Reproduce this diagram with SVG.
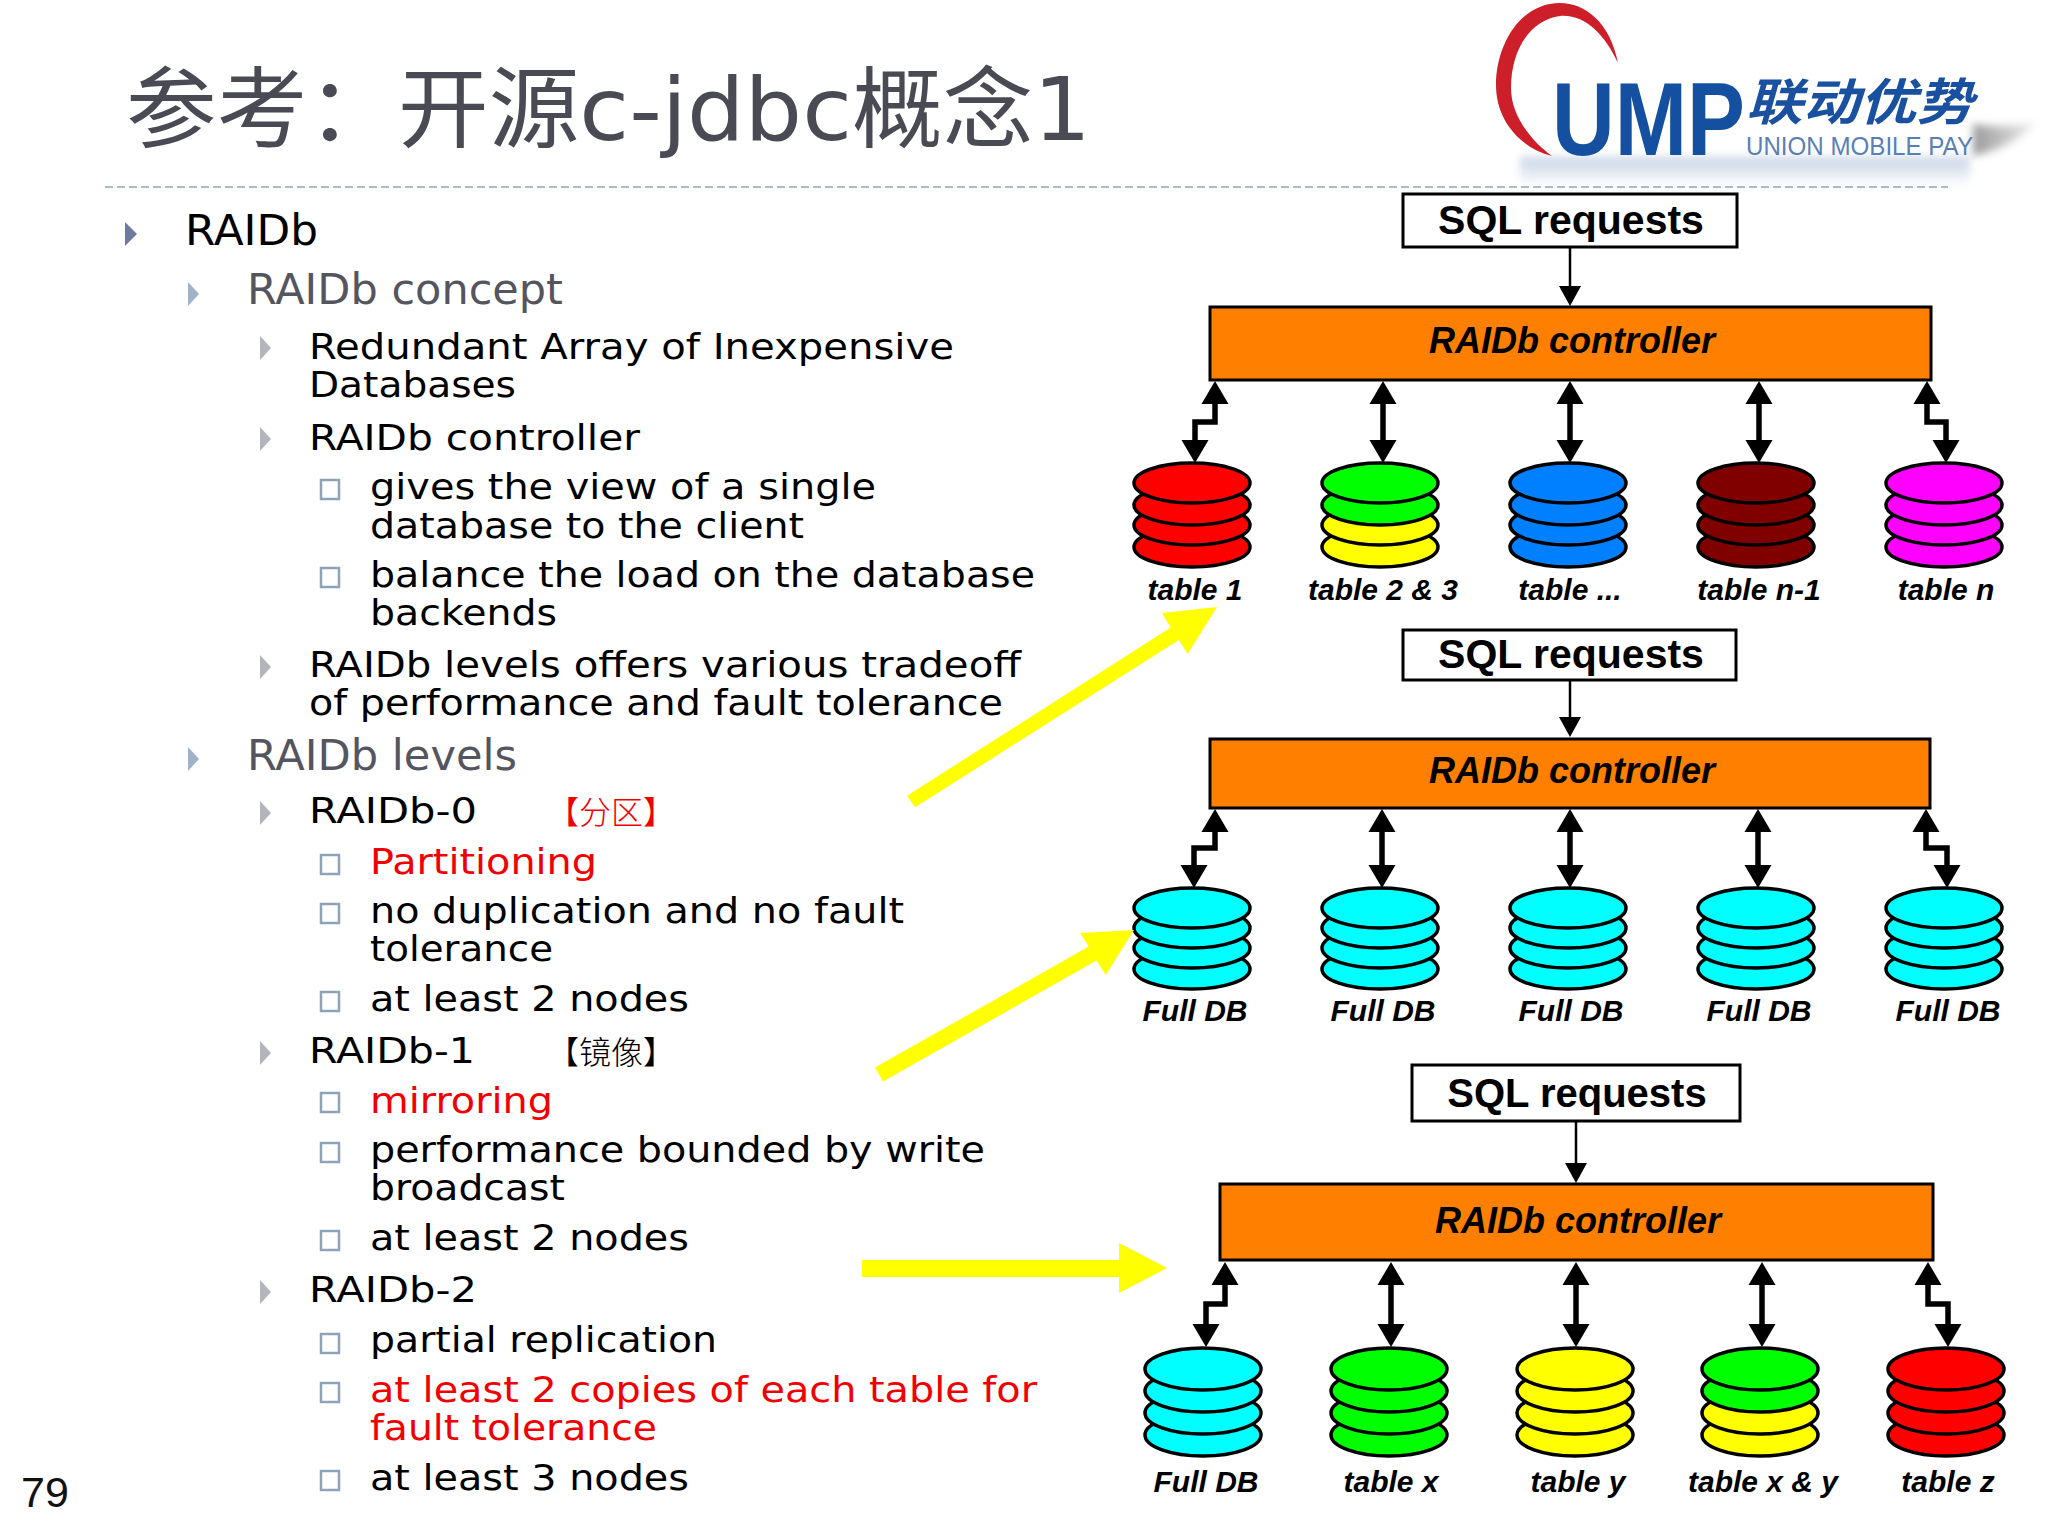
<svg xmlns="http://www.w3.org/2000/svg" width="2048" height="1536" viewBox="0 0 2048 1536">
<style>
text{font-family:"DejaVu Sans","Noto Sans CJK SC",sans-serif;fill:#000}
.title{font-size:88px;fill:#4a4a55}
.l1{font-size:42px}
.l2{font-size:42px;fill:#55555f}
.l3,.l4{font-size:36px}
.red{fill:#f00000}
.cjk{font-family:"Noto Sans CJK SC",sans-serif;font-size:32px;font-weight:300}
.num{font-family:"Liberation Sans",sans-serif;font-size:43px;fill:#111}
.sql{font-family:"Liberation Sans",sans-serif;font-size:41px;font-weight:700;text-anchor:middle}
.ctl{font-family:"Liberation Sans",sans-serif;font-size:36px;font-weight:700;font-style:italic;text-anchor:middle}
.lbl{font-family:"Liberation Sans",sans-serif;font-size:30px;font-weight:700;font-style:italic;text-anchor:middle}
.box{fill:#fff;stroke:#000;stroke-width:3}
.ctrl{fill:#ff8000;stroke:#000;stroke-width:3}
ellipse{stroke:#000;stroke-width:3.5}
.r{fill:#f00}.g{fill:#0f0}.y{fill:#ff0}.b{fill:#0080ff}.m{fill:#800000}.p{fill:#f0f}.c{fill:#0ff}
.t1{fill:#6f7a9f}.t2{fill:#9fb2c8}.t3{fill:#b4b4bc}
.sq{fill:#fff;stroke:#8fa3b8;stroke-width:2.5}
.rule{stroke:#a8bccc;stroke-width:2;stroke-dasharray:8 4;fill:none}
.thin{fill:none;stroke:#000;stroke-width:2.5;marker-end:url(#head1)}
.dbl{fill:none;stroke:#000;stroke-width:5.5;marker-start:url(#head2);marker-end:url(#head2)}
.big{fill:#ff0}
</style>
<defs>
<marker id="head1" markerUnits="userSpaceOnUse" markerWidth="20" markerHeight="24" viewBox="0 0 20 24" refX="0" refY="12" orient="auto"><path d="M0,1 L20,12 L0,23Z" fill="#000"/></marker>
<marker id="head2" markerUnits="userSpaceOnUse" markerWidth="23" markerHeight="28" viewBox="0 0 23 28" refX="0" refY="14" orient="auto-start-reverse"><path d="M0,0.5 L23,14 L0,27.5Z" fill="#000"/></marker>
<path id="tri1" d="M0,-12 L12,0 L0,12Z"/>
<path id="tri2" d="M0,-12 L11,0 L0,12Z"/>
<linearGradient id="shadow" x1="0" x2="1" y1="0" y2="0"><stop offset="0" stop-color="#9a9a9a"/><stop offset="1" stop-color="#eeeeee"/></linearGradient>
<linearGradient id="refl" x1="0" x2="0" y1="0" y2="1"><stop offset="0" stop-color="#b9c8de"/><stop offset="1" stop-color="#ffffff"/></linearGradient>
<filter id="blur" x="-20%" y="-40%" width="140%" height="180%"><feGaussianBlur stdDeviation="4"/></filter>
</defs>
<rect width="2048" height="1536" fill="#fff"/>

<g id="logo">
<rect x="1520" y="157" width="450" height="30" fill="url(#refl)" filter="url(#blur)" opacity="0.8"/>
<path d="M1973,124 C2000,128 2020,126 2036,122 C2020,140 2000,150 1973,156Z" fill="url(#shadow)" filter="url(#blur)"/>
<path d="M1618,63 C1610,22 1585,3 1560,3 C1520,3 1496,45 1496,85 C1496,120 1520,148 1552,156 C1530,140 1511,115 1511,88 C1511,50 1530,20 1560,16 C1585,14 1605,35 1618,63Z" fill="#cc1f2a"/>
<text x="1552" y="155" font-size="104" textLength="193" lengthAdjust="spacingAndGlyphs" style="font-family:'Liberation Sans',sans-serif;font-weight:700;fill:#1550a0">UMP</text>
<text x="1746" y="120" font-size="50" textLength="227" lengthAdjust="spacingAndGlyphs" style="font-family:'Noto Sans CJK SC',sans-serif;font-weight:700;font-style:italic;fill:#1a50a0">联动优势</text>
<text x="1746" y="155" font-size="25" textLength="227" lengthAdjust="spacingAndGlyphs" style="font-family:'Liberation Sans',sans-serif;fill:#5a7fb5">UNION MOBILE PAY</text>
</g>

<g id="heading">
<text class="title" x="126" y="140" textLength="965" lengthAdjust="spacingAndGlyphs">参考：开源c-jdbc概念1</text>
<line class="rule" x1="105" y1="187" x2="1948" y2="187"/>
</g>

<g id="bullets">
<use href="#tri1" class="t1" x="125" y="234"/>
<use href="#tri2" class="t2" x="188" y="294"/>
<use href="#tri2" class="t2" x="188" y="759"/>
<use href="#tri2" class="t3" x="260" y="348"/>
<use href="#tri2" class="t3" x="260" y="439"/>
<use href="#tri2" class="t3" x="260" y="667"/>
<use href="#tri2" class="t3" x="260" y="813"/>
<use href="#tri2" class="t3" x="260" y="1053"/>
<use href="#tri2" class="t3" x="260" y="1292"/>
<rect class="sq" x="321" y="480" width="18" height="19"/>
<rect class="sq" x="321" y="568" width="18" height="19"/>
<rect class="sq" x="321" y="855" width="18" height="19"/>
<rect class="sq" x="321" y="904" width="18" height="19"/>
<rect class="sq" x="321" y="992" width="18" height="19"/>
<rect class="sq" x="321" y="1093" width="18" height="19"/>
<rect class="sq" x="321" y="1143" width="18" height="19"/>
<rect class="sq" x="321" y="1231" width="18" height="19"/>
<rect class="sq" x="321" y="1334" width="18" height="19"/>
<rect class="sq" x="321" y="1383" width="18" height="19"/>
<rect class="sq" x="321" y="1471" width="18" height="19"/>
</g>

<g id="outline">
<text class="l1" x="185" y="245" textLength="133" lengthAdjust="spacingAndGlyphs">RAIDb</text>
<text class="l2" x="247" y="304" textLength="316" lengthAdjust="spacingAndGlyphs">RAIDb concept</text>
<text class="l3" x="309" y="359" textLength="645" lengthAdjust="spacingAndGlyphs">Redundant Array of Inexpensive</text>
<text class="l3" x="309" y="397" textLength="207" lengthAdjust="spacingAndGlyphs">Databases</text>
<text class="l3" x="309" y="450" textLength="331" lengthAdjust="spacingAndGlyphs">RAIDb controller</text>
<text class="l4" x="370" y="499" textLength="506" lengthAdjust="spacingAndGlyphs">gives the view of a single</text>
<text class="l4" x="370" y="538" textLength="434" lengthAdjust="spacingAndGlyphs">database to the client</text>
<text class="l4" x="370" y="587" textLength="665" lengthAdjust="spacingAndGlyphs">balance the load on the database</text>
<text class="l4" x="370" y="625" textLength="187" lengthAdjust="spacingAndGlyphs">backends</text>
<text class="l3" x="309" y="677" textLength="712" lengthAdjust="spacingAndGlyphs">RAIDb levels offers various tradeoff</text>
<text class="l3" x="309" y="715" textLength="694" lengthAdjust="spacingAndGlyphs">of performance and fault tolerance</text>
<text class="l2" x="247" y="770" textLength="270" lengthAdjust="spacingAndGlyphs">RAIDb levels</text>
<text class="l3" x="309" y="823" textLength="168" lengthAdjust="spacingAndGlyphs">RAIDb-0</text>
<text class="cjk red" x="547" y="824">【分区】</text>
<text class="l4 red" x="370" y="874" textLength="227" lengthAdjust="spacingAndGlyphs">Partitioning</text>
<text class="l4" x="370" y="923" textLength="534" lengthAdjust="spacingAndGlyphs">no duplication and no fault</text>
<text class="l4" x="370" y="961" textLength="183" lengthAdjust="spacingAndGlyphs">tolerance</text>
<text class="l4" x="370" y="1011" textLength="319" lengthAdjust="spacingAndGlyphs">at least 2 nodes</text>
<text class="l3" x="309" y="1063" textLength="166" lengthAdjust="spacingAndGlyphs">RAIDb-1</text>
<text class="cjk" x="547" y="1064">【镜像】</text>
<text class="l4 red" x="370" y="1113" textLength="183" lengthAdjust="spacingAndGlyphs">mirroring</text>
<text class="l4" x="370" y="1162" textLength="615" lengthAdjust="spacingAndGlyphs">performance bounded by write</text>
<text class="l4" x="370" y="1200" textLength="195" lengthAdjust="spacingAndGlyphs">broadcast</text>
<text class="l4" x="370" y="1250" textLength="319" lengthAdjust="spacingAndGlyphs">at least 2 nodes</text>
<text class="l3" x="309" y="1302" textLength="168" lengthAdjust="spacingAndGlyphs">RAIDb-2</text>
<text class="l4" x="370" y="1352" textLength="347" lengthAdjust="spacingAndGlyphs">partial replication</text>
<text class="l4 red" x="370" y="1402" textLength="667" lengthAdjust="spacingAndGlyphs">at least 2 copies of each table for</text>
<text class="l4 red" x="370" y="1440" textLength="287" lengthAdjust="spacingAndGlyphs">fault tolerance</text>
<text class="l4" x="370" y="1490" textLength="319" lengthAdjust="spacingAndGlyphs">at least 3 nodes</text>
<text class="num" x="21" y="1507">79</text>
</g>

<g id="connectors">
<path class="thin" d="M1570,247V286"/>
<path class="dbl" d="M1215,404V422H1195V440"/>
<path class="dbl" d="M1383,404V440"/>
<path class="dbl" d="M1570,404V440"/>
<path class="dbl" d="M1759,404V440"/>
<path class="dbl" d="M1927,404V422H1946V440"/>
<path class="thin" d="M1570,680V717"/>
<path class="dbl" d="M1215,832V848H1194V865"/>
<path class="dbl" d="M1382,832V865"/>
<path class="dbl" d="M1570,832V865"/>
<path class="dbl" d="M1758,832V865"/>
<path class="dbl" d="M1926,832V848H1947V865"/>
<path class="thin" d="M1576,1120V1163"/>
<path class="dbl" d="M1225,1285V1304H1206V1324"/>
<path class="dbl" d="M1391,1285V1324"/>
<path class="dbl" d="M1576,1285V1324"/>
<path class="dbl" d="M1762,1285V1324"/>
<path class="dbl" d="M1928,1285V1304H1948V1324"/>
</g>

<g id="sql-1"><rect class="box" x="1403" y="194" width="334" height="53"/><text class="sql" x="1571" y="234">SQL requests</text></g>
<g id="controller-1"><rect class="ctrl" x="1210" y="307" width="721" height="73"/><text class="ctl" x="1572" y="353">RAIDb controller</text></g>
<g id="db-1-1"><ellipse class="r" cx="1192" cy="547" rx="58" ry="20"/><ellipse class="r" cx="1192" cy="525" rx="58" ry="20"/><ellipse class="r" cx="1192" cy="505" rx="58" ry="20"/><ellipse class="r" cx="1192" cy="483" rx="58" ry="20"/><text class="lbl" x="1195" y="600">table 1</text></g>
<g id="db-1-2"><ellipse class="y" cx="1380" cy="547" rx="58" ry="20"/><ellipse class="y" cx="1380" cy="525" rx="58" ry="20"/><ellipse class="g" cx="1380" cy="505" rx="58" ry="20"/><ellipse class="g" cx="1380" cy="483" rx="58" ry="20"/><text class="lbl" x="1383" y="600">table 2 &amp; 3</text></g>
<g id="db-1-3"><ellipse class="b" cx="1568" cy="547" rx="58" ry="20"/><ellipse class="b" cx="1568" cy="525" rx="58" ry="20"/><ellipse class="b" cx="1568" cy="505" rx="58" ry="20"/><ellipse class="b" cx="1568" cy="483" rx="58" ry="20"/><text class="lbl" x="1570" y="600">table ...</text></g>
<g id="db-1-4"><ellipse class="m" cx="1756" cy="547" rx="58" ry="20"/><ellipse class="m" cx="1756" cy="525" rx="58" ry="20"/><ellipse class="m" cx="1756" cy="505" rx="58" ry="20"/><ellipse class="m" cx="1756" cy="483" rx="58" ry="20"/><text class="lbl" x="1759" y="600">table n-1</text></g>
<g id="db-1-5"><ellipse class="p" cx="1944" cy="547" rx="58" ry="20"/><ellipse class="p" cx="1944" cy="525" rx="58" ry="20"/><ellipse class="p" cx="1944" cy="505" rx="58" ry="20"/><ellipse class="p" cx="1944" cy="483" rx="58" ry="20"/><text class="lbl" x="1946" y="600">table n</text></g>

<g id="sql-2"><rect class="box" x="1403" y="630" width="333" height="50"/><text class="sql" x="1571" y="668">SQL requests</text></g>
<g id="controller-2"><rect class="ctrl" x="1210" y="739" width="720" height="69"/><text class="ctl" x="1572" y="783">RAIDb controller</text></g>
<g id="db-2-1"><ellipse class="c" cx="1192" cy="969" rx="58" ry="20"/><ellipse class="c" cx="1192" cy="948" rx="58" ry="20"/><ellipse class="c" cx="1192" cy="928" rx="58" ry="20"/><ellipse class="c" cx="1192" cy="908" rx="58" ry="20"/><text class="lbl" x="1195" y="1021">Full DB</text></g>
<g id="db-2-2"><ellipse class="c" cx="1380" cy="969" rx="58" ry="20"/><ellipse class="c" cx="1380" cy="948" rx="58" ry="20"/><ellipse class="c" cx="1380" cy="928" rx="58" ry="20"/><ellipse class="c" cx="1380" cy="908" rx="58" ry="20"/><text class="lbl" x="1383" y="1021">Full DB</text></g>
<g id="db-2-3"><ellipse class="c" cx="1568" cy="969" rx="58" ry="20"/><ellipse class="c" cx="1568" cy="948" rx="58" ry="20"/><ellipse class="c" cx="1568" cy="928" rx="58" ry="20"/><ellipse class="c" cx="1568" cy="908" rx="58" ry="20"/><text class="lbl" x="1571" y="1021">Full DB</text></g>
<g id="db-2-4"><ellipse class="c" cx="1756" cy="969" rx="58" ry="20"/><ellipse class="c" cx="1756" cy="948" rx="58" ry="20"/><ellipse class="c" cx="1756" cy="928" rx="58" ry="20"/><ellipse class="c" cx="1756" cy="908" rx="58" ry="20"/><text class="lbl" x="1759" y="1021">Full DB</text></g>
<g id="db-2-5"><ellipse class="c" cx="1944" cy="969" rx="58" ry="20"/><ellipse class="c" cx="1944" cy="948" rx="58" ry="20"/><ellipse class="c" cx="1944" cy="928" rx="58" ry="20"/><ellipse class="c" cx="1944" cy="908" rx="58" ry="20"/><text class="lbl" x="1948" y="1021">Full DB</text></g>

<g id="sql-3"><rect class="box" x="1412" y="1065" width="328" height="56"/><text class="sql" x="1577" y="1107" style="font-size:40px">SQL requests</text></g>
<g id="controller-3"><rect class="ctrl" x="1220" y="1184" width="713" height="76"/><text class="ctl" x="1578" y="1233">RAIDb controller</text></g>
<g id="db-3-1"><ellipse class="c" cx="1203" cy="1435" rx="58" ry="21"/><ellipse class="c" cx="1203" cy="1413" rx="58" ry="21"/><ellipse class="c" cx="1203" cy="1391" rx="58" ry="21"/><ellipse class="c" cx="1203" cy="1369" rx="58" ry="21"/><text class="lbl" x="1206" y="1492">Full DB</text></g>
<g id="db-3-2"><ellipse class="g" cx="1389" cy="1435" rx="58" ry="21"/><ellipse class="g" cx="1389" cy="1413" rx="58" ry="21"/><ellipse class="g" cx="1389" cy="1391" rx="58" ry="21"/><ellipse class="g" cx="1389" cy="1369" rx="58" ry="21"/><text class="lbl" x="1391" y="1492">table x</text></g>
<g id="db-3-3"><ellipse class="y" cx="1575" cy="1435" rx="58" ry="21"/><ellipse class="y" cx="1575" cy="1413" rx="58" ry="21"/><ellipse class="y" cx="1575" cy="1391" rx="58" ry="21"/><ellipse class="y" cx="1575" cy="1369" rx="58" ry="21"/><text class="lbl" x="1578" y="1492">table y</text></g>
<g id="db-3-4"><ellipse class="y" cx="1760" cy="1435" rx="58" ry="21"/><ellipse class="y" cx="1760" cy="1413" rx="58" ry="21"/><ellipse class="g" cx="1760" cy="1391" rx="58" ry="21"/><ellipse class="g" cx="1760" cy="1369" rx="58" ry="21"/><text class="lbl" x="1763" y="1492">table x &amp; y</text></g>
<g id="db-3-5"><ellipse class="r" cx="1946" cy="1435" rx="58" ry="21"/><ellipse class="r" cx="1946" cy="1413" rx="58" ry="21"/><ellipse class="r" cx="1946" cy="1391" rx="58" ry="21"/><ellipse class="r" cx="1946" cy="1369" rx="58" ry="21"/><text class="lbl" x="1948" y="1492">table z</text></g>

<g id="pointers">
<polygon class="big" points="907,795.7 1170.7,627.5 1162,613 1217,607 1187.6,654 1178.8,640.1 915,807.3"/>
<polygon class="big" points="875,1067.5 1088.7,946.5 1080,933 1134,930 1105.6,975 1096.5,960.5 883,1081.5"/>
<polygon class="big" points="862,1260 1119,1260 1119,1243 1167,1268 1119,1293 1119,1277 862,1277"/>
</g>
</svg>
